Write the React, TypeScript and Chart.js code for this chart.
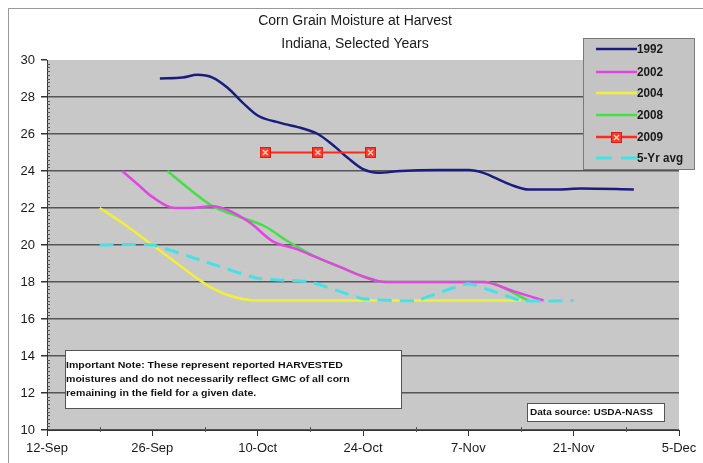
import React, { useEffect, useRef } from 'react';
import { Chart, registerables } from 'chart.js';

Chart.register(...registerables);

// ---- data (x = days after 12-Sep) ----
const xTickLabels = ['12-Sep', '26-Sep', '10-Oct', '24-Oct', '7-Nov', '21-Nov', '5-Dec'];
const titleLines = ['Corn Grain Moisture at Harvest', 'Indiana, Selected Years'];
const noteLines = [
  'Important Note: These represent reported HARVESTED',
  'moistures and do not necessarily reflect GMC of all corn',
  'remaining in the field for a given date.',
];
const sourceText = 'Data source: USDA-NASS';

const seriesLabels = ['1992', '2002', '2004', '2008', '2009', '5-Yr avg'];

const days1992 = [15, 18, 20, 22, 24, 26, 28, 31, 34, 36, 38, 40, 42, 44, 47, 52, 56, 58, 60, 62, 64, 68, 71, 78];
const vals1992 = [29.0, 29.05, 29.2, 29.05, 28.5, 27.7, 27.0, 26.6, 26.3, 26.0, 25.4, 24.7, 24.1, 23.9, 24.0, 24.05, 24.05, 23.9, 23.55, 23.2, 23.0, 23.0, 23.05, 23.0];

const days2002 = [10, 12, 14, 17, 19, 22, 24, 27, 30, 33, 36, 39, 42, 45, 50, 55, 58, 62, 66];
const vals2002 = [24.0, 23.3, 22.6, 22.0, 22.0, 22.1, 21.9, 21.2, 20.2, 19.8, 19.3, 18.8, 18.3, 18.0, 18.0, 18.0, 18.0, 17.5, 17.0];

const days2004 = [7, 10, 14, 17, 21, 24, 28, 35, 42, 49, 56, 63];
const vals2004 = [22.0, 21.2, 20.0, 19.1, 17.9, 17.3, 17.0, 17.0, 17.0, 17.0, 17.0, 17.0];

const days2008 = [16, 19, 22, 25, 29, 32, 36, 39, 42, 45, 50, 55, 58, 64];
const vals2008 = [24.0, 23.0, 22.1, 21.6, 21.0, 20.2, 19.3, 18.8, 18.3, 18.0, 18.0, 18.0, 18.0, 17.0];

const days2009 = [29, 36, 43];
const vals2009 = [25, 25, 25];

const daysAvg = [7, 14, 21, 28, 35, 42, 49, 56, 63, 70];
const valsAvg = [20.0, 20.0, 19.1, 18.2, 18.0, 17.1, 17.0, 17.9, 17.0, 17.0];

const pts = (d: number[], v: number[]) => d.map((x, i) => ({ x, y: v[i] }));

const FONT = '"Liberation Sans", Arial, sans-serif';

function makeMarker(): HTMLCanvasElement {
  const c = document.createElement('canvas');
  c.width = 11;
  c.height = 11;
  const g = c.getContext('2d')!;
  g.fillStyle = '#ff3a28';
  g.fillRect(0, 0, 11, 11);
  g.strokeStyle = '#d81e10';
  g.lineWidth = 1;
  g.strokeRect(0.5, 0.5, 10, 10);
  g.strokeStyle = '#ffe0d8';
  g.lineWidth = 1.2;
  g.beginPath();
  g.moveTo(3, 3); g.lineTo(8, 8);
  g.moveTo(8, 3); g.lineTo(3, 8);
  g.stroke();
  return c;
}

export default function App() {
  const ref = useRef<HTMLCanvasElement>(null);

  useEffect(() => {
    const canvas = ref.current!;
    const marker = makeMarker();

    const decor = {
      id: 'decor',
      beforeDraw(chart: any) {
        const { ctx, chartArea: a } = chart;
        ctx.save();
        ctx.fillStyle = '#ffffff';
        ctx.fillRect(0, 0, chart.width, chart.height);
        ctx.strokeStyle = '#9a9a9a';
        ctx.lineWidth = 1;
        ctx.strokeRect(8.5, 8.5, 710, 480);
        ctx.fillStyle = '#c8c8c8';
        ctx.fillRect(a.left, a.top, a.right - a.left, a.bottom - a.top);
        ctx.restore();
      },
      beforeDatasetsDraw(chart: any) {
        const { ctx, chartArea: a, scales } = chart;
        const y = scales.y;
        const x = scales.x;
        ctx.save();
        ctx.strokeStyle = '#555';
        ctx.lineWidth = 1;
        ctx.beginPath();
        for (let k = 0; k <= 100; k++) {
          const v = 10 + k * 0.2;
          if (k % 10 === 0) continue;
          const py = Math.round(y.getPixelForValue(v)) + 0.5;
          ctx.moveTo(a.left, py);
          ctx.lineTo(a.left + 3, py);
        }
        for (let d = 7; d < 84; d += 14) {
          const px = Math.round(x.getPixelForValue(d)) + 0.5;
          ctx.moveTo(px, a.bottom - 3);
          ctx.lineTo(px, a.bottom + 2);
        }
        ctx.stroke();
        ctx.restore();
      },
      afterDraw(chart: any) {
        const { ctx } = chart;
        ctx.save();
        // title
        ctx.fillStyle = '#1a1a1a';
        ctx.font = `14px ${FONT}`;
        ctx.textAlign = 'center';
        ctx.textBaseline = 'middle';
        ctx.fillText(titleLines[0], 355, 21);
        ctx.fillText(titleLines[1], 355, 44);

        // note box
        ctx.fillStyle = '#ffffff';
        ctx.fillRect(65, 350, 337, 59);
        ctx.strokeStyle = '#555';
        ctx.lineWidth = 1;
        ctx.strokeRect(65.5, 350.5, 336, 58);
        ctx.fillStyle = '#111';
        ctx.font = `bold 9.5px ${FONT}`;
        ctx.textAlign = 'left';
        const w0 = ctx.measureText(noteLines[0]).width;
        const sx = 277 / w0;
        const ys = [365, 379, 393];
        noteLines.forEach((t, i) => {
          ctx.save();
          ctx.translate(66, ys[i]);
          ctx.scale(sx, 1);
          ctx.fillText(t, 0, 0);
          ctx.restore();
        });

        // source box
        ctx.fillStyle = '#ffffff';
        ctx.fillRect(527, 403, 138, 19);
        ctx.strokeStyle = '#555';
        ctx.strokeRect(527.5, 403.5, 137, 18);
        ctx.fillStyle = '#111';
        ctx.font = `bold 9px ${FONT}`;
        const ws = ctx.measureText(sourceText).width;
        ctx.save();
        ctx.translate(530, 413);
        ctx.scale(123 / ws, 1);
        ctx.fillText(sourceText, 0, 0);
        ctx.restore();

        // legend
        ctx.fillStyle = '#c4c4c4';
        ctx.fillRect(583, 38, 112, 132);
        ctx.strokeStyle = '#7a7a7a';
        ctx.strokeRect(583.5, 38.5, 111, 131);
        const rows = [49, 72, 93, 115, 137, 158];
        const ds = chart.data.datasets;
        rows.forEach((ry, i) => {
          const d = ds[i];
          ctx.strokeStyle = d.borderColor;
          ctx.lineWidth = 2.5;
          ctx.beginPath();
          if (i === 5) {
            ctx.lineWidth = 3;
            ctx.moveTo(596, ry); ctx.lineTo(612, ry);
            ctx.moveTo(621, ry); ctx.lineTo(637, ry);
          } else {
            ctx.moveTo(596, ry);
            ctx.lineTo(637, ry);
          }
          ctx.stroke();
          if (i === 4) ctx.drawImage(marker, 611, ry - 5);
          ctx.fillStyle = '#1a1a1a';
          ctx.font = `bold 12px "Liberation Sans Narrow", ${FONT}`;
          ctx.textBaseline = 'middle';
          const tw = ctx.measureText(d.label).width;
          const target = i === 5 ? 46 : 26;
          ctx.save();
          ctx.translate(637, ry + 1);
          ctx.scale(Math.min(1.15, target / tw), 1);
          ctx.fillText(d.label, 0, 0);
          ctx.restore();
        });
        ctx.restore();
      },
    };

    const line = (label: string, data: any[], color: string, width: number, order: number, extra: any = {}) => ({
      label,
      data,
      borderColor: color,
      backgroundColor: color,
      borderWidth: width,
      pointRadius: 0,
      cubicInterpolationMode: 'monotone',
      fill: false,
      order,
      ...extra,
    });

    const chart = new Chart(canvas, {
      type: 'line',
      data: {
        datasets: [
          line(seriesLabels[0], pts(days1992, vals1992), '#1c1c7e', 2.5, 5),
          line(seriesLabels[1], pts(days2002, vals2002), '#e246e2', 2.5, 2),
          line(seriesLabels[2], pts(days2004, vals2004), '#f0f03a', 2.5, 4),
          line(seriesLabels[3], pts(days2008, vals2008), '#44e044', 2.5, 3),
          line(seriesLabels[4], pts(days2009, vals2009), '#ff2a1a', 2, 0, {
            pointRadius: 5,
            pointStyle: marker,
            cubicInterpolationMode: 'default',
            tension: 0,
          }),
          line(seriesLabels[5], pts(daysAvg, valsAvg), '#44e2e6', 3, 1, {
            borderDash: [14, 8],
            cubicInterpolationMode: 'default',
            tension: 0.15,
          }),
        ],
      } as any,
      options: {
        responsive: false,
        animation: false,
        events: [],
        layout: { padding: { top: 60, right: 24, left: 0, bottom: 0 } },
        plugins: { legend: { display: false }, tooltip: { enabled: false }, title: { display: false } },
        scales: {
          x: {
            type: 'linear',
            min: 0,
            max: 84,
            afterFit: (s: any) => { s.height = 33; },
            ticks: {
              stepSize: 14,
              autoSkip: false,
              maxRotation: 0,
              padding: 5,
              color: '#1a1a1a',
              font: { size: 13, family: FONT },
              callback: (v: any) => xTickLabels[Math.round(Number(v) / 14)] ?? '',
            },
            grid: { drawOnChartArea: false, tickLength: 6, tickColor: '#333', color: '#333' },
            border: { color: '#333', width: 1 },
          },
          y: {
            type: 'linear',
            min: 10,
            max: 30,
            afterFit: (s: any) => { s.width = 47; },
            ticks: {
              stepSize: 2,
              padding: 6,
              color: '#1a1a1a',
              font: { size: 13, family: FONT },
            },
            grid: {
              tickLength: 6,
              tickColor: '#333',
              lineWidth: 1.5,
              color: (c: any) => (c.tick && c.tick.value === 30 ? 'rgba(0,0,0,0)' : '#555555'),
            },
            border: { color: '#333', width: 1 },
          },
        },
      },
      plugins: [decor],
    } as any);

    return () => chart.destroy();
  }, []);

  return (
    <div style={{ position: 'fixed', left: 0, top: 0, width: 703, height: 463 }}>
      <canvas ref={ref} width={703} height={463} style={{ display: 'block' }} />
    </div>
  );
}
